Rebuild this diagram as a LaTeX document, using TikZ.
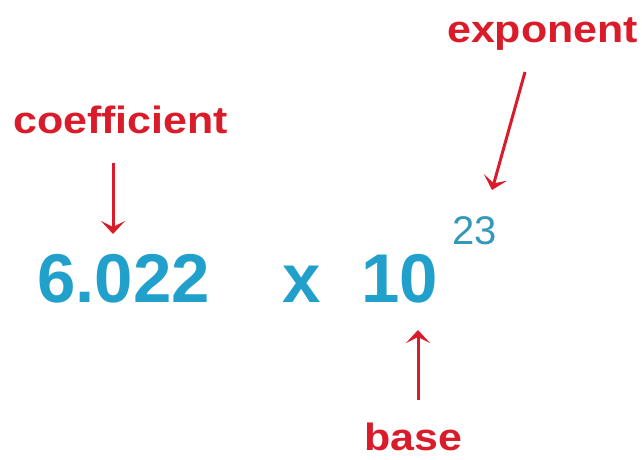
\documentclass[tikz,border=0pt]{standalone}
\usepackage{fontspec}
\setmainfont{Liberation Sans}
\newfontfamily\labelfont[FakeStretch=1.13]{Liberation Sans Bold}
\newfontfamily\numfont{Liberation Sans Bold}
\newfontfamily\expfont{Liberation Sans}
\usetikzlibrary{arrows.meta}
\definecolor{labelred}{RGB}{218,28,42}
\definecolor{numblue}{RGB}{34,160,204}
\definecolor{expblue}{RGB}{52,152,184}
\tikzset{
  tag/.style={inner sep=0pt, anchor=base west, text=labelred,
    font=\labelfont\fontsize{38}{40}\selectfont},
  bignum/.style={inner sep=0pt, anchor=base west, text=numblue,
    font=\numfont\fontsize{69}{72}\selectfont},
  supnum/.style={inner sep=0pt, anchor=base west, text=expblue,
    font=\expfont\fontsize{40}{42}\selectfont},
  pointer/.style={draw=labelred, line width=3pt,
    -{Stealth[length=13pt,width=24pt,inset=6pt]}}
}
\begin{document}
\begin{tikzpicture}[x=1pt,y=-1pt]
\useasboundingbox (0,0) rectangle (642,460);
% labels
\node[tag] (coef) at (13,133) {coefficient};
\node[tag] (expo) at (447,42) {exponent};
\node[tag] (base) at (364,450) {base};
% the number in scientific notation
\node[bignum] (mant) at (37,302) {6.022};
\node[bignum] (times) at (282,302) {x};
\node[bignum] (ten) at (361,302) {10};
\node[supnum] (pow) at (452,244) {23};
% arrow end points
\coordinate (coefA) at (113,163);
\coordinate (coefB) at (113,234);
\coordinate (expoA) at (525,72);
\coordinate (expoB) at (492,190);
\coordinate (baseA) at (418,400);
\coordinate (baseB) at (418,330);
\draw[pointer] (coefA) -- (coefB);
\draw[pointer] (expoA) -- (expoB);
\draw[pointer] (baseA) -- (baseB);
\end{tikzpicture}
\end{document}
